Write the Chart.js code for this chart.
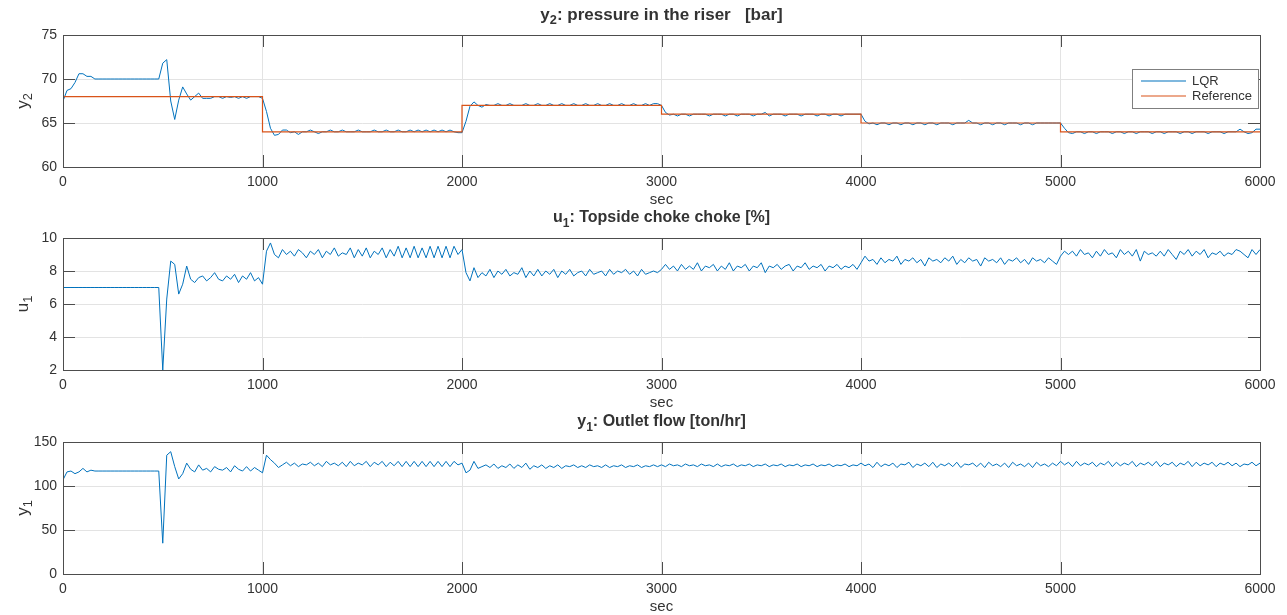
<!DOCTYPE html>
<html>
<head>
<meta charset="utf-8">
<script src="https://cdn.jsdelivr.net/npm/chart.js@4.4.0/dist/chart.umd.min.js"></script>
<style>
  body { margin: 0; background: #fff; }
  #wrap { position: relative; width: 1287px; height: 615px; }
  #wrap canvas { position: absolute; left: 0; top: 0; }
</style>
</head>
<body>
<div id="wrap">
  <canvas id="pressureChart" width="1287" height="615"></canvas>
  <canvas id="chokeChart" width="1287" height="615"></canvas>
  <canvas id="flowChart" width="1287" height="615"></canvas>
</div>
<script>
// Sample times (sec), one sample every 20 s
const time = [];
for (let s = 0; s <= 6000; s += 20) time.push(s);

const xTicks = [0, 1000, 2000, 3000, 4000, 5000, 6000];

// y2: riser pressure [bar], LQR response
const pressureLQR = [
  67.5, 68.7, 68.9, 69.6, 70.6, 70.6, 70.3, 70.3, 70.0, 70.0,   // 0
  70.0, 70.0, 70.0, 70.0, 70.0, 70.0, 70.0, 70.0, 70.0, 70.0,   // 200
  70.0, 70.0, 70.0, 70.0, 70.0, 71.8, 72.2, 67.5, 65.4, 67.6,   // 400
  69.1, 68.3, 67.6, 68.0, 68.4, 67.8, 67.8, 67.8, 68.0, 68.0,   // 600
  67.8, 68.0, 67.9, 68.0, 67.8, 68.0, 67.8, 68.0, 68.0, 68.0,   // 800
  67.8, 66.3, 64.4, 63.6, 63.7, 64.2, 64.2, 63.9, 64.0, 63.7,   // 1000
  64.0, 64.0, 64.2, 64.0, 63.8, 64.0, 64.0, 64.2, 64.0, 64.0,   // 1200
  64.2, 64.0, 64.0, 64.0, 64.2, 64.0, 64.0, 64.0, 64.2, 64.0,   // 1400
  64.0, 64.2, 64.0, 64.0, 64.2, 64.0, 64.0, 64.2, 64.0, 64.2,   // 1600
  64.0, 64.2, 64.0, 64.2, 64.0, 64.2, 64.0, 64.2, 64.0, 63.9,   // 1800
  63.9, 65.2, 66.9, 67.4, 67.0, 66.8, 67.1, 67.0, 67.0, 67.2,   // 2000
  67.0, 67.0, 67.2, 67.0, 67.0, 67.0, 67.2, 67.0, 67.0, 67.2,   // 2200
  67.0, 67.0, 67.2, 67.0, 67.0, 67.2, 67.0, 67.0, 67.2, 67.0,   // 2400
  67.0, 67.2, 67.0, 67.0, 67.2, 67.0, 67.0, 67.2, 67.0, 67.0,   // 2600
  67.2, 67.0, 67.0, 67.2, 67.0, 67.0, 67.2, 67.0, 67.2, 67.2,   // 2800
  67.0, 66.2, 65.9, 66.0, 65.8, 66.0, 66.0, 65.8, 66.0, 66.0,   // 3000
  66.0, 66.0, 65.8, 66.0, 66.0, 66.0, 65.8, 66.0, 66.0, 65.8,   // 3200
  66.0, 66.0, 66.0, 65.8, 66.0, 66.0, 66.2, 65.8, 66.0, 66.0,   // 3400
  66.0, 65.8, 66.0, 66.0, 66.0, 65.8, 66.0, 66.0, 66.0, 65.8,   // 3600
  66.0, 66.0, 65.8, 66.0, 66.0, 65.8, 66.0, 66.0, 66.0, 66.0,   // 3800
  66.0, 65.2, 64.9, 65.0, 64.8, 65.0, 65.0, 64.8, 65.0, 65.0,   // 4000
  64.8, 65.0, 65.0, 64.8, 65.0, 65.0, 64.8, 65.0, 65.0, 64.8,   // 4200
  65.0, 65.0, 65.0, 64.8, 65.0, 65.0, 65.0, 65.3, 65.0, 65.0,   // 4400
  64.8, 65.0, 65.0, 64.8, 65.0, 65.0, 64.8, 65.0, 65.0, 65.0,   // 4600
  64.8, 65.0, 65.0, 64.8, 65.0, 65.0, 65.0, 65.0, 65.0, 65.0,   // 4800
  65.0, 64.4, 63.9, 63.8, 64.0, 64.0, 63.8, 64.0, 64.0, 63.8,   // 5000
  64.0, 64.0, 64.0, 63.8, 64.0, 64.0, 63.8, 64.0, 64.0, 63.8,   // 5200
  64.0, 64.0, 64.0, 63.8, 64.0, 64.0, 63.8, 64.0, 64.0, 64.0,   // 5400
  63.8, 64.0, 64.0, 63.8, 64.0, 64.0, 64.0, 63.8, 64.0, 64.0,   // 5600
  64.0, 63.8, 64.0, 64.0, 64.0, 64.3, 64.0, 63.8, 63.9, 64.3,   // 5800
  64.3
];

// y2 set-point (step changes every 1000 s)
const refTime = [0, 1000, 2000, 3000, 4000, 5000, 6000];
const refPressure = [68, 64, 67, 66, 65, 64, 64];

// u1: topside choke opening [%]
const chokeLQR = [
  7.0, 7.0, 7.0, 7.0, 7.0, 7.0, 7.0, 7.0, 7.0, 7.0,   // 0
  7.0, 7.0, 7.0, 7.0, 7.0, 7.0, 7.0, 7.0, 7.0, 7.0,   // 200
  7.0, 7.0, 7.0, 7.0, 7.0, 2.0, 6.3, 8.6, 8.4, 6.6,   // 400
  7.2, 8.3, 7.5, 7.3, 7.6, 7.7, 7.4, 7.6, 7.9, 7.5,   // 600
  7.4, 7.7, 7.5, 7.8, 7.3, 7.7, 7.5, 7.9, 7.4, 7.6,   // 800
  7.2, 9.2, 9.7, 9.0, 8.8, 9.3, 9.0, 9.2, 8.9, 9.3,   // 1000
  9.1, 8.8, 9.2, 9.0, 9.3, 8.8, 9.2, 9.0, 9.4, 8.9,   // 1200
  9.1, 9.0, 9.4, 8.8, 9.3, 8.9, 9.4, 8.8, 9.2, 9.0,   // 1400
  9.4, 8.8, 9.3, 8.9, 9.5, 8.8, 9.4, 8.8, 9.5, 8.8,   // 1600
  9.4, 8.8, 9.5, 8.8, 9.5, 8.8, 9.5, 8.8, 9.5, 9.0,   // 1800
  9.3, 7.9, 7.4, 8.2, 7.6, 7.9, 7.7, 8.1, 7.6, 8.0,   // 2000
  7.8, 8.1, 7.7, 7.9, 7.8, 8.2, 7.6, 8.0, 7.7, 8.1,   // 2200
  7.7, 8.0, 7.8, 8.1, 7.6, 8.0, 7.8, 8.1, 7.7, 7.9,   // 2400
  8.0, 7.7, 8.1, 7.8, 7.9, 8.0, 7.7, 8.1, 7.8, 8.0,   // 2600
  7.9, 8.1, 7.8, 8.0, 7.7, 8.1, 7.8, 7.9, 8.0, 7.9,   // 2800
  8.1, 8.4, 8.1, 8.3, 8.0, 8.4, 8.1, 8.3, 8.1, 8.5,   // 3000
  8.0, 8.3, 8.2, 8.4, 8.0, 8.3, 8.1, 8.5, 8.0, 8.3,   // 3200
  8.2, 8.4, 8.0, 8.3, 8.2, 8.5, 7.9, 8.3, 8.2, 8.4,   // 3400
  8.1, 8.3, 8.4, 8.0, 8.3, 8.2, 8.5, 8.1, 8.3, 8.2,   // 3600
  8.4, 8.0, 8.3, 8.2, 8.4, 8.1, 8.3, 8.2, 8.4, 8.1,   // 3800
  8.5, 8.9, 8.6, 8.7, 8.4, 8.8, 8.5, 8.7, 8.6, 8.9,   // 4000
  8.4, 8.7, 8.6, 8.8, 8.5, 8.7, 8.3, 8.8, 8.6, 8.7,   // 4200
  8.5, 8.8, 8.6, 8.9, 8.4, 8.7, 8.5, 8.8, 8.6, 8.7,   // 4400
  8.3, 8.8, 8.6, 8.7, 8.5, 8.8, 8.4, 8.7, 8.6, 8.8,   // 4600
  8.5, 8.7, 8.4, 8.8, 8.6, 8.7, 8.5, 8.8, 8.6, 8.4,   // 4800
  8.9, 9.2, 9.0, 9.2, 8.9, 9.3, 9.0, 9.1, 8.8, 9.2,   // 5000
  8.9, 9.3, 9.0, 9.1, 8.8, 9.3, 9.0, 9.2, 8.9, 9.3,   // 5200
  8.6, 9.2, 9.0, 9.1, 8.9, 9.2, 8.9, 9.3, 9.0, 8.7,   // 5400
  9.2, 9.0, 9.3, 8.9, 9.2, 9.0, 9.3, 8.8, 9.1, 9.0,   // 5600
  9.2, 8.9, 9.1, 9.0, 9.3, 9.2, 9.0, 8.8, 9.3, 9.0,   // 5800
  9.3
];

// y1: outlet flow [ton/hr]
const flowLQR = [
  107, 116, 117, 114, 116, 120, 116, 118, 117, 117,   // 0
  117, 117, 117, 117, 117, 117, 117, 117, 117, 117,   // 200
  117, 117, 117, 117, 117, 35, 135, 139, 122, 108,    // 400
  114, 126, 119, 116, 124, 118, 120, 116, 122, 119,   // 600
  118, 121, 116, 123, 119, 117, 122, 117, 121, 118,   // 800
  115, 135, 130, 126, 121, 124, 127, 123, 126, 122,   // 1000
  125, 124, 127, 123, 126, 122, 128, 124, 126, 123,   // 1200
  127, 122, 128, 123, 126, 124, 128, 122, 127, 124,   // 1400
  128, 122, 127, 123, 128, 122, 128, 122, 128, 122,   // 1600
  128, 122, 128, 122, 128, 122, 128, 122, 128, 124,   // 1800
  126, 115, 118, 128, 120, 122, 124, 121, 125, 120,   // 2000
  123, 121, 125, 120, 124, 121, 126, 119, 123, 121,   // 2200
  124, 120, 123, 121, 124, 120, 123, 122, 124, 121,   // 2400
  123, 121, 124, 122, 123, 121, 124, 121, 123, 122,   // 2600
  124, 121, 123, 122, 124, 121, 123, 122, 124, 122,   // 2800
  124, 122, 125, 123, 124, 122, 125, 123, 124, 122,   // 3000
  125, 123, 124, 122, 125, 122, 124, 123, 125, 122,   // 3200
  124, 123, 125, 122, 124, 123, 125, 122, 124, 123,   // 3400
  125, 122, 124, 123, 125, 122, 124, 123, 125, 122,   // 3600
  124, 123, 125, 122, 124, 123, 125, 122, 124, 123,   // 3800
  126, 123, 125, 121, 127, 122, 125, 123, 126, 121,   // 4000
  125, 124, 127, 121, 125, 123, 126, 122, 127, 121,   // 4200
  125, 123, 126, 122, 127, 121, 125, 124, 126, 122,   // 4400
  126, 121, 127, 123, 125, 122, 126, 121, 127, 123,   // 4600
  125, 122, 126, 121, 127, 123, 125, 122, 126, 123,   // 4800
  128, 124, 127, 122, 128, 123, 126, 124, 127, 122,   // 5000
  126, 124, 128, 122, 127, 123, 126, 124, 128, 122,   // 5200
  126, 124, 127, 123, 128, 122, 126, 124, 127, 122,   // 5400
  126, 124, 128, 122, 127, 123, 126, 124, 127, 122,   // 5600
  126, 124, 127, 123, 126, 122, 125, 124, 127, 123,   // 5800
  126
];

const blue = '#0072BD';
const orange = '#D95319';
const axisColor = '#4d4d4d';
const textColor = '#333333';
const fontFamily = '"Liberation Sans", Arial, Helvetica, sans-serif';

// draw text made of pieces, some of them subscripts, centred on (x, y)
function drawParts(ctx, parts, x, y, size, bold) {
  const weight = bold ? 'bold ' : '';
  let total = 0;
  parts.forEach(p => {
    ctx.font = weight + (p[1] ? size * 0.75 : size) + 'px ' + fontFamily;
    total += ctx.measureText(p[0]).width;
  });
  let cx = x - total / 2;
  ctx.fillStyle = textColor;
  ctx.textBaseline = 'middle';
  ctx.textAlign = 'left';
  parts.forEach(p => {
    ctx.font = weight + (p[1] ? size * 0.75 : size) + 'px ' + fontFamily;
    ctx.fillText(p[0], cx, p[1] ? y + size * 0.35 : y);
    cx += ctx.measureText(p[0]).width;
  });
}

// MATLAB-like decorations: box, inward ticks, titles, labels, legend
const matlabAxes = {
  id: 'matlabAxes',
  afterDraw(chart, args, opts) {
    const ctx = chart.ctx;
    const a = chart.chartArea;
    const xs = chart.scales.x;
    const ys = chart.scales.y;
    ctx.save();
    ctx.strokeStyle = axisColor;
    ctx.lineWidth = 1;
    ctx.strokeRect(Math.round(a.left) + 0.5, Math.round(a.top) + 0.5,
      Math.round(a.right - a.left), Math.round(a.bottom - a.top));
    ctx.beginPath();
    xs.ticks.forEach(t => {
      const px = Math.round(xs.getPixelForValue(t.value)) + 0.5;
      ctx.moveTo(px, a.bottom); ctx.lineTo(px, a.bottom - 12);
      ctx.moveTo(px, a.top); ctx.lineTo(px, a.top + 12);
    });
    ys.ticks.forEach(t => {
      const py = Math.round(ys.getPixelForValue(t.value)) + 0.5;
      ctx.moveTo(a.left, py); ctx.lineTo(a.left + 12, py);
      ctx.moveTo(a.right, py); ctx.lineTo(a.right - 12, py);
    });
    ctx.stroke();

    const midX = (a.left + a.right) / 2;
    drawParts(ctx, opts.title, midX, a.top - 20, opts.titleSize, true);
    drawParts(ctx, [['sec', false]], midX, a.bottom + 33, 15, false);

    ctx.save();
    ctx.translate(23, (a.top + a.bottom) / 2);
    ctx.rotate(-Math.PI / 2);
    drawParts(ctx, opts.ylabel, 0, 0, 17, false);
    ctx.restore();

    if (opts.legend) {
      const lx = 1132, ly = 69, lw = 126, lh = 39;
      ctx.fillStyle = '#fff';
      ctx.fillRect(lx, ly, lw, lh);
      ctx.strokeStyle = '#7f7f7f';
      ctx.strokeRect(lx + 0.5, ly + 0.5, lw, lh);
      const items = [['LQR', blue, ly + 12], ['Reference', orange, ly + 27]];
      ctx.font = '13px ' + fontFamily;
      ctx.textBaseline = 'middle';
      ctx.textAlign = 'left';
      items.forEach(it => {
        ctx.strokeStyle = it[1];
        ctx.lineWidth = 1.2;
        ctx.beginPath();
        ctx.moveTo(lx + 9, it[2]); ctx.lineTo(lx + 54, it[2]);
        ctx.stroke();
        ctx.fillStyle = textColor;
        ctx.fillText(it[0], lx + 60, it[2]);
      });
    }
    ctx.restore();
  }
};

function makePanel(id, top, bottom, yMin, yMax, yStep, datasets, deco) {
  return new Chart(document.getElementById(id), {
    type: 'line',
    data: { datasets: datasets },
    options: {
      responsive: false,
      animation: false,
      devicePixelRatio: 1,
      layout: { padding: { top: top, right: 27, bottom: 0, left: 0 } },
      elements: { point: { radius: 0 }, line: { tension: 0 } },
      plugins: { legend: { display: false }, tooltip: { enabled: false }, matlabAxes: deco },
      scales: {
        x: {
          type: 'linear', min: 0, max: 6000,
          afterBuildTicks: s => { s.ticks = xTicks.map(v => ({ value: v })); },
          afterFit: s => { s.height = 615 - bottom; },
          border: { display: false },
          grid: { color: '#e3e3e3', drawTicks: false },
          ticks: { padding: 7, color: textColor, font: { family: fontFamily, size: 14 },
                   callback: v => String(v), maxRotation: 0 }
        },
        y: {
          min: yMin, max: yMax,
          afterFit: s => { s.width = 63; },
          border: { display: false },
          grid: { color: '#e3e3e3', drawTicks: false },
          ticks: { stepSize: yStep, padding: 6, color: textColor,
                   font: { family: fontFamily, size: 14 }, callback: v => String(v) }
        }
      }
    },
    plugins: [matlabAxes]
  });
}

const pts = vals => time.map((t, i) => ({ x: t, y: vals[i] }));

makePanel('pressureChart', 35, 167, 60, 75, 5, [
  { label: 'LQR', data: pts(pressureLQR), borderColor: blue, borderWidth: 1, order: 1 },
  { label: 'Reference', data: refTime.map((t, i) => ({ x: t, y: refPressure[i] })),
    borderColor: orange, borderWidth: 1.2, stepped: 'before', order: 0 }
], { title: [['y', false], ['2', true], [': pressure in the riser   [bar]', false]],
     titleSize: 17, ylabel: [['y', false], ['2', true]], legend: true });

makePanel('chokeChart', 238, 370, 2, 10, 2, [
  { label: 'LQR', data: pts(chokeLQR), borderColor: blue, borderWidth: 1 }
], { title: [['u', false], ['1', true], [': Topside choke choke [%]', false]],
     titleSize: 16, ylabel: [['u', false], ['1', true]], legend: false });

makePanel('flowChart', 442, 574, 0, 150, 50, [
  { label: 'LQR', data: pts(flowLQR), borderColor: blue, borderWidth: 1 }
], { title: [['y', false], ['1', true], [': Outlet flow [ton/hr]', false]],
     titleSize: 16, ylabel: [['y', false], ['1', true]], legend: false });
</script>
</body>
</html>
